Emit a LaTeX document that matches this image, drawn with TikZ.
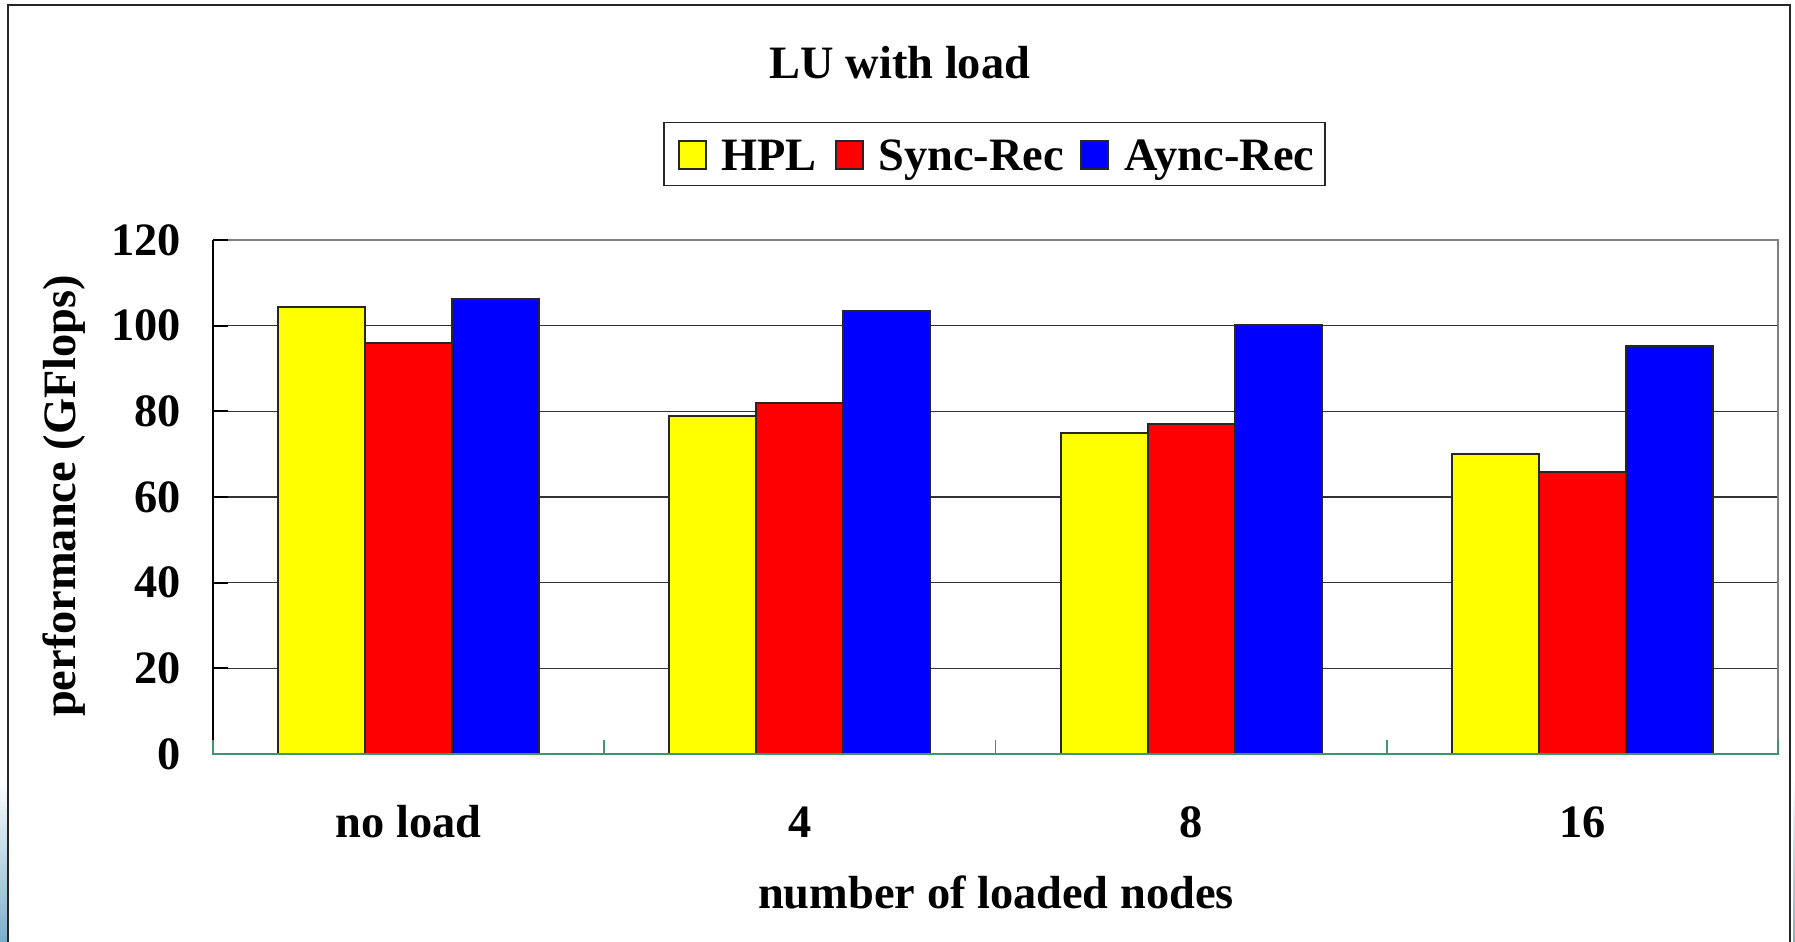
\documentclass[tikz,border=0pt]{standalone}
\usepackage{fontspec}
\setmainfont{Liberation Serif}
\definecolor{byel}{RGB}{255,255,0}
\definecolor{bred}{RGB}{255,0,0}
\definecolor{bblu}{RGB}{0,0,255}
\definecolor{axg}{RGB}{60,150,110}
\definecolor{edgeblue}{RGB}{122,174,200}
\begin{document}
\begin{tikzpicture}[x=0.5pt,y=-0.5pt]
\tikzset{
  lbl/.style={font=\fontsize{23.2}{28}\selectfont\bfseries, inner sep=0pt},
  barbox/.style={draw=black!85, line width=1pt},
  gridln/.style={draw=black!80, line width=0.75pt},
  border/.style={draw=black!50, line width=0.9pt},
  axgreen/.style={draw=axg, line width=0.9pt},
  keybox/.style={draw=black!85, line width=0.8pt},
}
\useasboundingbox (0,0) rectangle (1795,942);
% side shading
\shade[top color=white, bottom color=edgeblue] (0,780) rectangle (7,942);
\shade[top color=white, bottom color=edgeblue] (1793,780) rectangle (1795,942);
% outer frame
\draw[black!85, line width=1pt] (8,942) -- (8,5) -- (1790,5) -- (1790,942);
% title
\node[lbl, anchor=base] (title) at (900,78) {LU with load};
% legend
\draw[keybox] (664,122.5) rectangle (1325,185.5);
\draw[barbox, fill=byel] (679,141) rectangle (706,169);
\draw[barbox, fill=bred] (836,141) rectangle (863,169);
\draw[barbox, fill=bblu] (1081,141) rectangle (1108,169);
\node[lbl, anchor=base west] (k1) at (721,170) {HPL};
\node[lbl, anchor=base west] (k2) at (878,170) {Sync-Rec};
\node[lbl, anchor=base west] (k3) at (1124,170) {Aync-Rec};
% gridlines
\foreach \k in {1,...,5} {
  \draw[gridln] (213,{754-\k*85.6667}) -- (1778,{754-\k*85.6667});
}
\draw[border] (213,240) -- (1778,240) -- (1778,740);
% y tick labels
\foreach \k in {0,...,6} {
  \pgfmathtruncatemacro\v{20*\k}
  \node[lbl, anchor=base east] (yl\k) at (181,{754-\k*85.6667+15}) {\v};
  \draw[black, line width=0.9pt] (213,{754-\k*85.6667}) -- (228,{754-\k*85.6667});
}
% bars
\foreach \g/\a/\b/\c [count=\i from 0] in {no load/104.4/96.0/106.3, 4/78.8/82.0/103.4, 8/74.9/77.1/100.2, 16/70.0/65.8/95.3} {
  \pgfmathsetmacro\cx{213+391.25*(\i+0.5)}
  \draw[barbox, fill=byel] ({\cx-130.41},754) rectangle ({\cx-43.47},{754-\a*4.28333});
  \draw[barbox, fill=bred] ({\cx-43.47},754) rectangle ({\cx+43.47},{754-\b*4.28333});
  \draw[barbox, fill=bblu] ({\cx+43.47},754) rectangle ({\cx+130.41},{754-\c*4.28333});
  \node[lbl, anchor=base] (xl\i) at (\cx,837) {\g};
}
% axes
\draw[black, line width=0.9pt] (213,240) -- (213,740);
\draw[axgreen] (213,740) -- (213,754) -- (1778,754) -- (1778,740);
\foreach \t in {1,2,3} {
  \draw[axgreen] ({213+391.25*\t},754) -- ({213+391.25*\t},740);
}
% axis titles
\node[lbl, rotate=90] (ytitle) at (64,496) {performance (GFlops)};
\node[lbl, anchor=base] (xtitle) at (996,908) {number of loaded nodes};
\end{tikzpicture}
\end{document}
